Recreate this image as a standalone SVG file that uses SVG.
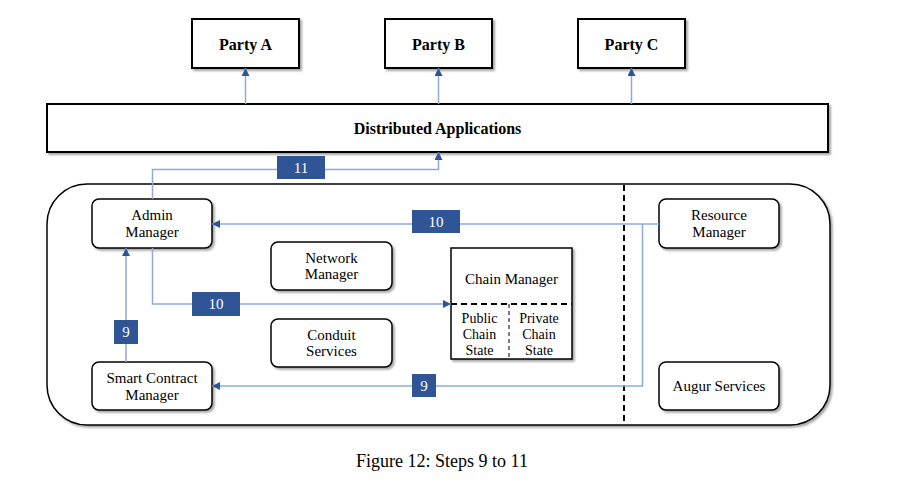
<svg xmlns="http://www.w3.org/2000/svg" width="900" height="500" viewBox="0 0 900 500">
<defs>
<filter id="sh" x="-10%" y="-10%" width="130%" height="140%">
<feDropShadow dx="2" dy="2" stdDeviation="1.2" flood-color="#000" flood-opacity="0.35"/>
</filter>
<marker id="ah" viewBox="0 0 10 10" refX="10" refY="5" markerWidth="8" markerHeight="8" markerUnits="userSpaceOnUse" orient="auto">
<path d="M0,0 L10,5 L0,10 z" fill="#2f5597"/>
</marker>
<style>
text{font-family:"Liberation Serif","DejaVu Serif",serif;fill:#000;text-anchor:middle;dominant-baseline:central}
.sq{fill:#fff;stroke:#000;stroke-width:2}
.rr{fill:#fff;stroke:#000;stroke-width:1.5}
.b{font-weight:bold;font-size:16px}
.n{font-size:15px}
.s{font-size:14px}
.con{fill:none;stroke:#8eaadb;stroke-width:1.5}
.lab{fill:#2f5597}
.lt{fill:#fff;font-size:15px}
.dash{stroke:#000;stroke-width:2;stroke-dasharray:6,4;fill:none}
</style>
</defs>
<rect width="900" height="500" fill="#fff"/>

<g id="system-boundary">
<rect x="47" y="184" width="783" height="241" rx="40" ry="40" fill="#fff" stroke="#000" stroke-width="1.5" filter="url(#sh)"/>
<line class="dash" x1="624" y1="185" x2="624" y2="424"/>
</g>

<g id="party-a"><rect class="sq" x="192" y="19" width="107" height="49" filter="url(#sh)"/><text class="b" x="245.5" y="44">Party A</text></g>
<g id="party-b"><rect class="sq" x="385" y="19" width="107" height="49" filter="url(#sh)"/><text class="b" x="438.5" y="44">Party B</text></g>
<g id="party-c"><rect class="sq" x="578" y="19" width="107" height="49" filter="url(#sh)"/><text class="b" x="631.5" y="44">Party C</text></g>
<g id="distributed-applications"><rect class="sq" x="47" y="104" width="781" height="48" filter="url(#sh)"/><text class="b" x="437.5" y="128">Distributed Applications</text></g>

<g id="admin-manager"><rect class="rr" x="92" y="199" width="120" height="49" rx="7" filter="url(#sh)"/><text class="n" x="152" y="215">Admin</text><text class="n" x="152" y="232">Manager</text></g>
<g id="smart-contract-manager"><rect class="rr" x="92" y="362" width="120" height="48" rx="7" filter="url(#sh)"/><text class="n" x="152" y="378">Smart Contract</text><text class="n" x="152" y="395">Manager</text></g>
<g id="network-manager"><rect class="rr" x="271" y="242" width="121" height="48" rx="7" filter="url(#sh)"/><text class="n" x="331.5" y="258">Network</text><text class="n" x="331.5" y="274">Manager</text></g>
<g id="conduit-services"><rect class="rr" x="271" y="319" width="121" height="48" rx="7" filter="url(#sh)"/><text class="n" x="331.5" y="335">Conduit</text><text class="n" x="331.5" y="351">Services</text></g>
<g id="resource-manager"><rect class="rr" x="659" y="199" width="120" height="49" rx="7" filter="url(#sh)"/><text class="n" x="719" y="215">Resource</text><text class="n" x="719" y="232">Manager</text></g>
<g id="augur-services"><rect class="rr" x="659" y="362" width="120" height="48" rx="7" filter="url(#sh)"/><text class="n" x="719" y="386">Augur Services</text></g>

<g id="chain-manager">
<rect x="451" y="248" width="121" height="111" fill="#fff" stroke="#000" stroke-width="1.5" filter="url(#sh)"/>
<text class="n" x="511.5" y="279">Chain Manager</text>
<line class="dash" x1="451" y1="304" x2="572" y2="304"/>
<line x1="509" y1="304" x2="509" y2="359" stroke="#000" stroke-width="1" stroke-dasharray="4,3"/>
<text class="s" x="479.5" y="318">Public</text><text class="s" x="479.5" y="334">Chain</text><text class="s" x="479.5" y="350">State</text>
<text class="s" x="539" y="318">Private</text><text class="s" x="539" y="334">Chain</text><text class="s" x="539" y="350">State</text>
</g>

<g id="connectors">
<line class="con" x1="245.5" y1="104" x2="245.5" y2="68" marker-end="url(#ah)"/>
<line class="con" x1="438.5" y1="104" x2="438.5" y2="68" marker-end="url(#ah)"/>
<line class="con" x1="631.5" y1="104" x2="631.5" y2="68" marker-end="url(#ah)"/>
<polyline class="con" points="152.5,199 152.5,169.5 438.5,169.5 438.5,152" marker-end="url(#ah)"/>
<line class="con" x1="659" y1="224" x2="212" y2="224" marker-end="url(#ah)"/>
<polyline class="con" points="642.5,224 642.5,386 212,386" marker-end="url(#ah)"/>
<polyline class="con" points="152.5,248 152.5,304 451,304" marker-end="url(#ah)"/>
<line class="con" x1="126" y1="362" x2="126" y2="248" marker-end="url(#ah)"/>
<rect class="lab" x="277" y="156" width="48" height="23"/><text class="lt" x="301" y="168">11</text>
<rect class="lab" x="412" y="210" width="48" height="23"/><text class="lt" x="436" y="222">10</text>
<rect class="lab" x="192" y="292" width="48" height="24"/><text class="lt" x="216" y="304">10</text>
<rect class="lab" x="114" y="320" width="24" height="24"/><text class="lt" x="126" y="332">9</text>
<rect class="lab" x="412" y="374" width="24" height="23"/><text class="lt" x="424" y="386">9</text>
</g>

<text x="442" y="461" style="font-size:18px">Figure 12: Steps 9 to 11</text>
</svg>
